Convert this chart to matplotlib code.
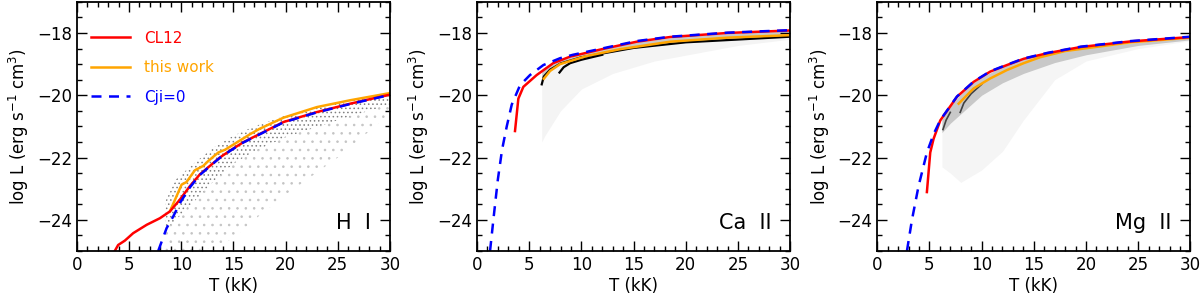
import numpy as np
import matplotlib.pyplot as plt

# ---- H I ----
h_cl12_T = [3.64, 3.96, 4.6, 5.4, 6.7, 7.96, 8.92, 9.88, 10.83, 11.79, 12.75, 13.7, 14.67, 15.94, 17.55, 19.8, 23.0, 26.2, 30.0]
h_cl12_L = [-25.0, -24.81, -24.67, -24.43, -24.16, -23.95, -23.73, -23.35, -22.92, -22.54, -22.27, -22.0, -21.78, -21.51, -21.24, -20.86, -20.54, -20.27, -19.98]
h_work_T = [8.92, 10.04, 10.5, 11.31, 12.11, 12.6, 13.55, 14.2, 14.83, 15.6, 16.6, 17.5, 19.8, 23.0, 26.2, 30.0]
h_work_L = [-23.73, -22.87, -22.79, -22.41, -22.27, -22.11, -21.84, -21.75, -21.62, -21.46, -21.25, -21.08, -20.72, -20.38, -20.16, -19.93]
h_cji_T = [7.8, 8.6, 9.24, 9.88, 10.83, 11.79, 12.75, 13.7, 14.67, 15.94, 17.55, 19.8, 23.0, 26.2, 30.0]
h_cji_L = [-25.0, -24.27, -23.89, -23.46, -22.96, -22.56, -22.28, -22.01, -21.79, -21.52, -21.25, -20.87, -20.55, -20.28, -19.99]
h_cloud_T = [8.5, 9.5, 11, 13, 15, 17, 20, 25, 30]
h_cloud_top = [-23.4, -22.7, -22.25, -21.7, -21.3, -21.0, -20.65, -20.25, -19.95]
h_cloud_mid = [-24.3, -24.0, -23.5, -22.8, -22.2, -21.8, -21.35, -20.8, -20.3]
h_cloud_low = [-25.0, -25.0, -25.0, -24.9, -24.6, -24.0, -23.2, -22.0, -20.6]

# ---- Ca II ----
ca_cl12_T = [3.64, 3.96, 4.44, 5.72, 7.3, 8.92, 12.1, 15.3, 18.5, 24.0, 30.0]
ca_cl12_L = [-21.15, -20.11, -19.73, -19.35, -18.97, -18.76, -18.51, -18.28, -18.13, -18.0, -17.92]
ca_work_T = [6.4, 7.0, 7.96, 10.5, 13.7, 18.5, 24.0, 30.0]
ca_work_L = [-19.47, -19.22, -19.0, -18.74, -18.52, -18.28, -18.15, -18.07]
ca_cji_T = [1.25, 1.6, 2.0, 2.4, 2.85, 3.33, 4.12, 5.08, 6.36, 7.96, 9.2, 12.1, 15.3, 18.5, 24.0, 30.0]
ca_cji_L = [-25.0, -23.9, -22.7, -21.75, -21.0, -20.3, -19.68, -19.35, -19.03, -18.81, -18.7, -18.49, -18.26, -18.12, -17.99, -17.91]
ca_black1_T = [6.2, 6.4, 7.0, 8.0, 10.0, 15.0, 20.0, 30.0]
ca_black1_L = [-19.65, -19.4, -19.18, -18.98, -18.78, -18.48, -18.3, -18.12]
ca_black2_T = [7.9, 8.3, 8.92, 10.0, 12.0]
ca_black2_L = [-19.27, -19.1, -18.97, -18.86, -18.7]
ca_cloud_T = [6.2, 6.5, 8.0, 10.0, 13.0, 17.0, 25.0, 30.0]
ca_cloud_top = [-19.3, -19.2, -18.95, -18.72, -18.45, -18.25, -18.05, -18.0]
ca_cloud_low = [-21.5, -21.3, -20.5, -19.8, -19.3, -18.9, -18.4, -18.2]

# ---- Mg II ----
mg_cl12_T = [4.76, 5.08, 5.4, 6.04, 7.64, 9.24, 10.83, 12.43, 14.03, 16.3, 19.5, 24.3, 30.0]
mg_cl12_L = [-23.11, -21.84, -21.4, -20.81, -20.05, -19.57, -19.24, -19.03, -18.83, -18.65, -18.45, -18.27, -18.13]
mg_work_T = [7.8, 9.24, 10.83, 12.43, 14.03, 15.6, 18.0, 24.3, 30.0]
mg_work_L = [-20.27, -19.78, -19.46, -19.19, -18.97, -18.78, -18.58, -18.3, -18.15]
mg_cji_T = [2.85, 3.33, 3.96, 4.76, 5.4, 6.04, 7.64, 9.24, 10.83, 12.43, 14.03, 16.3, 19.5, 24.3, 30.0]
mg_cji_L = [-25.0, -24.0, -22.92, -21.84, -21.25, -20.8, -20.04, -19.56, -19.23, -19.02, -18.82, -18.64, -18.44, -18.26, -18.12]
mg_cloud_T = [6.2, 7, 8, 9, 10, 12, 14, 17, 20, 25, 30]
mg_cloud_top = [-20.78, -20.35, -19.97, -19.65, -19.42, -19.08, -18.84, -18.6, -18.48, -18.3, -18.16]
mg_cloud_mid = [-21.2, -20.9, -20.6, -20.3, -20.0, -19.6, -19.3, -18.95, -18.7, -18.4, -18.22]
mg_cloud_low = [-22.3, -22.5, -22.8, -22.6, -22.4, -21.8, -20.8, -19.5, -18.9, -18.5, -18.25]
mg_streak1_T = [6.3, 6.6, 7.0]
mg_streak1_L = [-21.1, -20.8, -20.55]
mg_streak2_T = [7.95, 8.3, 9.0, 10.0]
mg_streak2_L = [-20.55, -20.25, -19.95, -19.65]

labels = ["H  I", "Ca  II", "Mg  II"]

plt.rcParams['font.family'] = 'DejaVu Sans'
plt.rcParams['hatch.linewidth'] = 0.6
fig = plt.figure(figsize=(12, 3.06), dpi=100)
lefts = [0.064, 0.3975, 0.731]
axes = [fig.add_axes([l, 0.18, 0.261, 0.814]) for l in lefts]

red, orange, blue = '#ff0000', '#ffa500', '#0000ff'
dash = (0, (4, 3))

# H I cloud (stippled scatter look)
ax = axes[0]
ax.fill_between(h_cloud_T, h_cloud_low, h_cloud_mid, facecolor='none', edgecolor='#c4c4c4', hatch='..', linewidth=0)
ax.fill_between(h_cloud_T, h_cloud_mid, h_cloud_top, facecolor='none', edgecolor='#808080', hatch='....', linewidth=0)
ax.plot(h_work_T, h_work_L, color=orange, lw=1.8, label='this work')
ax.plot(h_cl12_T, h_cl12_L, color=red, lw=1.8, label='CL12')
ax.plot(h_cji_T, h_cji_L, color=blue, lw=1.8, ls=dash, label='Cji=0')

# Ca II
ax = axes[1]
ax.fill_between(ca_cloud_T, ca_cloud_low, ca_cloud_top, color='#f4f4f4', lw=0)
ax.fill_between(ca_black1_T, ca_black1_L, np.interp(ca_black1_T, ca_cl12_T, ca_cl12_L), color='#c8c8c8', lw=0)
ax.plot(ca_black1_T, ca_black1_L, color='k', lw=1.6)
ax.plot(ca_black2_T, ca_black2_L, color='k', lw=1.6)
ax.plot(ca_work_T, ca_work_L, color=orange, lw=1.8)
ax.plot(ca_cl12_T, ca_cl12_L, color=red, lw=1.8)
ax.plot(ca_cji_T, ca_cji_L, color=blue, lw=1.8, ls=dash)

# Mg II
ax = axes[2]
ax.fill_between(mg_cloud_T, mg_cloud_low, mg_cloud_top, color='#f5f5f5', lw=0)
ax.fill_between(mg_cloud_T, mg_cloud_mid, mg_cloud_top, color='#c8c8c8', lw=0)
ax.plot(mg_streak1_T, mg_streak1_L, color='#404040', lw=1.2)
ax.plot(mg_streak2_T, mg_streak2_L, color='#404040', lw=1.2)
ax.plot(mg_work_T, mg_work_L, color=orange, lw=1.8)
ax.plot(mg_cl12_T, mg_cl12_L, color=red, lw=1.8)
ax.plot(mg_cji_T, mg_cji_L, color=blue, lw=1.8, ls=dash)

for ax, lab in zip(axes, labels):
    ax.set_xlim(0, 30)
    ax.set_ylim(-25, -17)
    ax.set_xticks(np.arange(0, 31, 5))
    ax.set_xticks(np.arange(0, 31, 1), minor=True)
    ax.set_yticks([-24, -22, -20, -18])
    ax.set_yticks(np.arange(-25, -16.9, 0.5), minor=True)
    ax.tick_params(which='both', direction='in', top=True, right=True, labelsize=12)
    ax.tick_params(which='major', length=7, width=1)
    ax.tick_params(which='minor', length=3.5, width=1)
    for s in ax.spines.values():
        s.set_linewidth(1.3)
    ax.set_xlabel('T (kK)', fontsize=12, labelpad=2)
    ax.set_ylabel(r'log L (erg s$^{-1}$ cm$^3$)', fontsize=12, labelpad=4)
    ax.text(0.94, 0.07, lab, transform=ax.transAxes, ha='right', va='bottom', fontsize=15)

h, l = axes[0].get_legend_handles_labels()
order = [1, 0, 2]
axes[0].legend([h[i] for i in order], [l[i] for i in order], loc='upper left',
               bbox_to_anchor=(0.0, 0.94), frameon=False, fontsize=11,
               labelcolor='linecolor', handlelength=2.6, labelspacing=0.95, handletextpad=0.9)

fig.savefig('out.png', dpi=100)
